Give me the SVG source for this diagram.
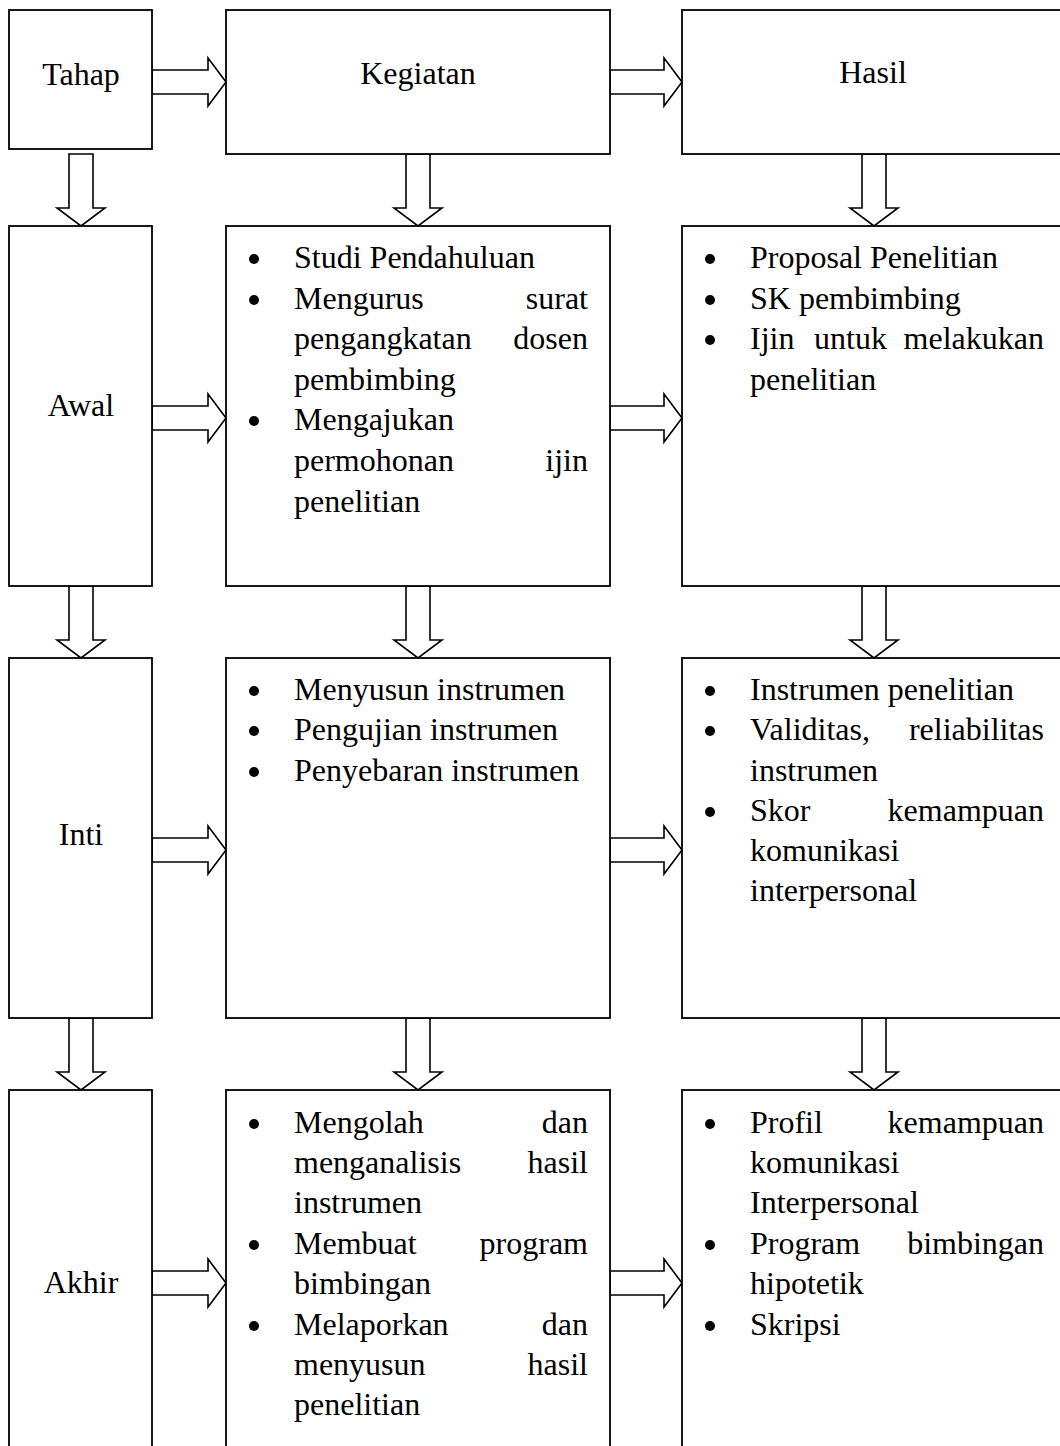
<svg xmlns="http://www.w3.org/2000/svg" width="1060" height="1446" viewBox="0 0 1060 1446">
<style>
.box{fill:#fff;stroke:#000;stroke-width:1.8}
.arr{fill:#fff;stroke:#000;stroke-width:1.6;stroke-linejoin:miter}
text{font-family:"Liberation Serif","Times New Roman",serif;font-size:32px;fill:#000}
.c{text-anchor:middle}
.e{text-anchor:end}
.b{fill:#000}
</style>
<rect width="1060" height="1446" fill="#fff"/>
<g id="connectors">
<path class="arr" d="M152,70 H208 V58 L226,82 L208,106 V94 H152 Z"/>
<path class="arr" d="M610,70 H664 V58 L682,82 L664,106 V94 H610 Z"/>
<path class="arr" d="M152,406 H208 V394 L226,418 L208,442 V430 H152 Z"/>
<path class="arr" d="M610,406 H664 V394 L682,418 L664,442 V430 H610 Z"/>
<path class="arr" d="M152,838 H208 V826 L226,850 L208,874 V862 H152 Z"/>
<path class="arr" d="M610,838 H664 V826 L682,850 L664,874 V862 H610 Z"/>
<path class="arr" d="M152,1271 H208 V1259 L226,1283 L208,1307 V1295 H152 Z"/>
<path class="arr" d="M610,1271 H664 V1259 L682,1283 L664,1307 V1295 H610 Z"/>
<path class="arr" d="M69,154 H93 V208 H105 L81,226 L57,208 H69 Z"/>
<path class="arr" d="M406,154 H430 V208 H442 L418,226 L394,208 H406 Z"/>
<path class="arr" d="M862,154 H886 V208 H898 L874,226 L850,208 H862 Z"/>
<path class="arr" d="M69,586 H93 V640 H105 L81,658 L57,640 H69 Z"/>
<path class="arr" d="M406,586 H430 V640 H442 L418,658 L394,640 H406 Z"/>
<path class="arr" d="M862,586 H886 V640 H898 L874,658 L850,640 H862 Z"/>
<path class="arr" d="M69,1018 H93 V1072 H105 L81,1090 L57,1072 H69 Z"/>
<path class="arr" d="M406,1018 H430 V1072 H442 L418,1090 L394,1072 H406 Z"/>
<path class="arr" d="M862,1018 H886 V1072 H898 L874,1090 L850,1072 H862 Z"/>
</g>
<g id="tahap">
<rect class="box" x="9" y="10" width="143" height="139"/>
<text class="c" x="81" y="85">Tahap</text>
</g>
<g id="kegiatan">
<rect class="box" x="226" y="10" width="384" height="144"/>
<text class="c" x="418" y="84">Kegiatan</text>
</g>
<g id="hasil">
<rect class="box" x="682" y="10" width="382" height="144"/>
<text class="c" x="873" y="83">Hasil</text>
</g>
<g id="awal">
<rect class="box" x="9" y="226" width="143" height="360"/>
<text class="c" x="81" y="416">Awal</text>
</g>
<g id="kegiatan-awal">
<rect class="box" x="226" y="226" width="384" height="360"/>
<circle class="b" cx="254" cy="259" r="5"/>
<circle class="b" cx="254" cy="300" r="5"/>
<circle class="b" cx="254" cy="421" r="5"/>
<text x="294" y="268">Studi Pendahuluan</text>
<text x="294" y="309">Mengurus</text><text class="e" x="588" y="309">surat</text>
<text x="294" y="349">pengangkatan</text><text class="e" x="588" y="349">dosen</text>
<text x="294" y="390">pembimbing</text>
<text x="294" y="430">Mengajukan</text>
<text x="294" y="471">permohonan</text><text class="e" x="588" y="471">ijin</text>
<text x="294" y="512">penelitian</text>
</g>
<g id="hasil-awal">
<rect class="box" x="682" y="226" width="382" height="360"/>
<circle class="b" cx="710" cy="259" r="5"/>
<circle class="b" cx="710" cy="300" r="5"/>
<circle class="b" cx="710" cy="340" r="5"/>
<text x="750" y="268">Proposal Penelitian</text>
<text x="750" y="309">SK pembimbing</text>
<text x="750" y="349">Ijin</text><text x="814" y="349">untuk</text><text class="e" x="1044" y="349">melakukan</text>
<text x="750" y="390">penelitian</text>
</g>
<g id="inti">
<rect class="box" x="9" y="658" width="143" height="360"/>
<text class="c" x="81" y="845">Inti</text>
</g>
<g id="kegiatan-inti">
<rect class="box" x="226" y="658" width="384" height="360"/>
<circle class="b" cx="254" cy="691" r="5"/>
<circle class="b" cx="254" cy="731" r="5"/>
<circle class="b" cx="254" cy="772" r="5"/>
<text x="294" y="700">Menyusun instrumen</text>
<text x="294" y="740">Pengujian instrumen</text>
<text x="294" y="781">Penyebaran instrumen</text>
</g>
<g id="hasil-inti">
<rect class="box" x="682" y="658" width="382" height="360"/>
<circle class="b" cx="710" cy="691" r="5"/>
<circle class="b" cx="710" cy="731" r="5"/>
<circle class="b" cx="710" cy="812" r="5"/>
<text x="750" y="700">Instrumen penelitian</text>
<text x="750" y="740">Validitas,</text><text class="e" x="1044" y="740">reliabilitas</text>
<text x="750" y="781">instrumen</text>
<text x="750" y="821">Skor</text><text class="e" x="1044" y="821">kemampuan</text>
<text x="750" y="861">komunikasi</text>
<text x="750" y="901">interpersonal</text>
</g>
<g id="akhir">
<rect class="box" x="9" y="1090" width="143" height="390"/>
<text class="c" x="81" y="1293">Akhir</text>
</g>
<g id="kegiatan-akhir">
<rect class="box" x="226" y="1090" width="384" height="390"/>
<circle class="b" cx="254" cy="1124" r="5"/>
<circle class="b" cx="254" cy="1245" r="5"/>
<circle class="b" cx="254" cy="1326" r="5"/>
<text x="294" y="1133">Mengolah</text><text class="e" x="588" y="1133">dan</text>
<text x="294" y="1173">menganalisis</text><text class="e" x="588" y="1173">hasil</text>
<text x="294" y="1213">instrumen</text>
<text x="294" y="1254">Membuat</text><text class="e" x="588" y="1254">program</text>
<text x="294" y="1294">bimbingan</text>
<text x="294" y="1335">Melaporkan</text><text class="e" x="588" y="1335">dan</text>
<text x="294" y="1375">menyusun</text><text class="e" x="588" y="1375">hasil</text>
<text x="294" y="1415">penelitian</text>
</g>
<g id="hasil-akhir">
<rect class="box" x="682" y="1090" width="382" height="390"/>
<circle class="b" cx="710" cy="1124" r="5"/>
<circle class="b" cx="710" cy="1245" r="5"/>
<circle class="b" cx="710" cy="1326" r="5"/>
<text x="750" y="1133">Profil</text><text class="e" x="1044" y="1133">kemampuan</text>
<text x="750" y="1173">komunikasi</text>
<text x="750" y="1213">Interpersonal</text>
<text x="750" y="1254">Program</text><text class="e" x="1044" y="1254">bimbingan</text>
<text x="750" y="1294">hipotetik</text>
<text x="750" y="1335">Skripsi</text>
</g>
</svg>
